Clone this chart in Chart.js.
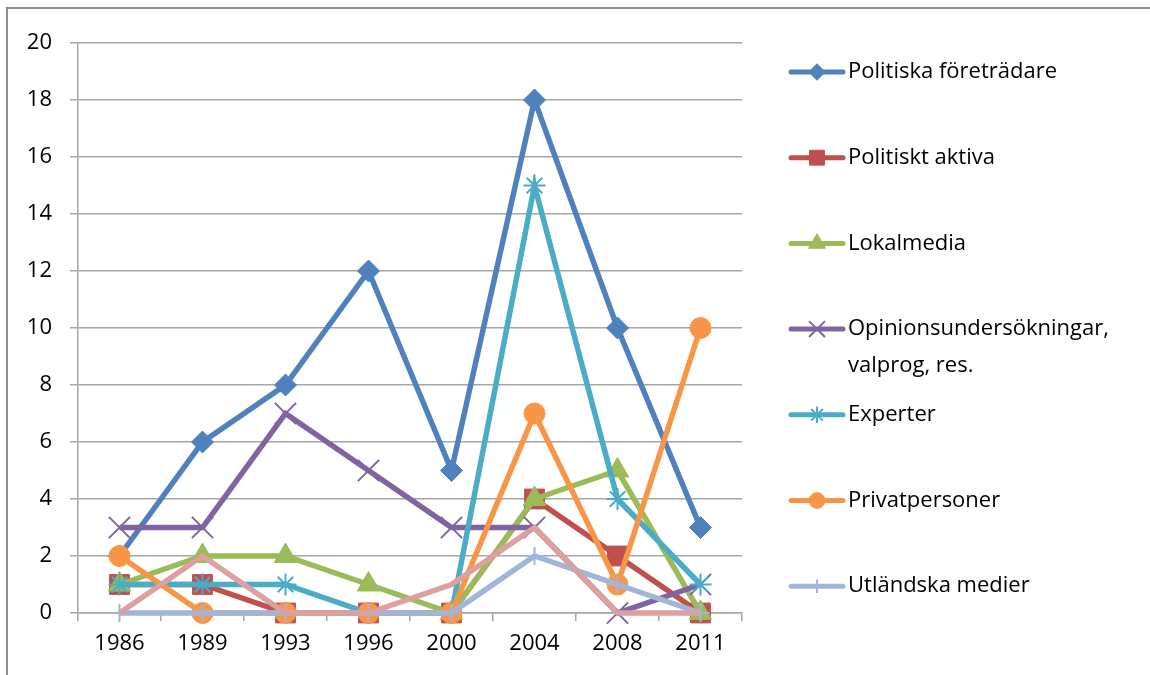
<!DOCTYPE html>
<html>
<head>
<meta charset="utf-8">
<script src="https://cdn.jsdelivr.net/npm/chart.js@4"></script>
<style>
html, body { margin: 0; padding: 0; background: #fff; }
#wrap { width: 1150px; height: 675px; }
</style>
</head>
<body>
<div id="wrap"><canvas id="chart" width="1150" height="675"></canvas></div>
<script>
const years = ['1986', '1989', '1993', '1996', '2000', '2004', '2008', '2011'];

const politiskaForetradare = [2, 6, 8, 12, 5, 18, 10, 3];
const politisktAktiva      = [1, 1, 0, 0, 0, 4, 2, 0];
const lokalmedia           = [1, 2, 2, 1, 0, 4, 5, 0];
const opinion              = [3, 3, 7, 5, 3, 3, 0, 1];
const experter             = [1, 1, 1, 0, 0, 15, 4, 1];
const privatpersoner       = [2, 0, 0, 0, 0, 7, 1, 10];
const utlandskaMedier      = [0, 0, 0, 0, 0, 2, 1, 0];
const ovrigt               = [0, 2, 0, 0, 1, 3, 0, 0]; // pink line, no legend entry

const seriesNames = ['Politiska företrädare', 'Politiskt aktiva', 'Lokalmedia',
    'Opinionsundersökningar, valprog, res.', 'Experter', 'Privatpersoner', 'Utländska medier', ''];
const seriesData = [politiskaForetradare, politisktAktiva, lokalmedia, opinion,
    experter, privatpersoner, utlandskaMedier, ovrigt];
const seriesColors = ['#4F81BD', '#C0504D', '#9BBB59', '#8064A2', '#4BACC6', '#F79646', '#A1B5DA', '#DBA09F'];
const pointStyles = ['rectRot', 'rect', 'triangle', 'crossRot', 'star', 'circle', 'cross', 'circle'];
const pointSizes = [11, 14, 13, 15, 11, 10.5, 9, 0];
const yTicks = [0, 2, 4, 6, 8, 10, 12, 14, 16, 18, 20];

const FONT = '"Open Sans", sans-serif';
const FONT_SIZE = 22;
const gridColor = '#a6a6a6';

const datasets = seriesData.map((d, i) => {
    const stroked = ['crossRot', 'star', 'cross'].includes(pointStyles[i]);
    return {
        label: seriesNames[i],
        data: d,
        borderColor: seriesColors[i],
        backgroundColor: seriesColors[i],
        borderWidth: 5.5,
        pointStyle: pointStyles[i],
        pointRadius: pointSizes[i],
        pointHoverRadius: pointSizes[i],
        pointBackgroundColor: seriesColors[i],
        pointBorderColor: seriesColors[i],
        pointBorderWidth: stroked ? 2 : 1,
        tension: 0,
        clip: false,
        order: seriesData.length - 1 - i // later series on top, like Excel
    };
});

// outer frame (top and left only are visible in the picture)
const framePlugin = {
    id: 'frame',
    beforeDraw(chart) {
        const ctx = chart.ctx;
        ctx.save();
        ctx.strokeStyle = '#8f8f8f';
        ctx.lineWidth = 2;
        ctx.beginPath();
        ctx.moveTo(7, 675);
        ctx.lineTo(7, 8);
        ctx.lineTo(1150, 8);
        ctx.stroke();
        ctx.restore();
    }
};

// legend drawn by hand so the spacing matches the original
const legendPlugin = {
    id: 'sideLegend',
    afterDraw(chart) {
        const ctx = chart.ctx;
        const top = 72, step = 85.7, lineX0 = 791, lineX1 = 843, textX = 848;
        ctx.save();
        chart.data.datasets.forEach((ds, i) => {
            if (!ds.label) return;
            const y = top + i * step;
            ctx.strokeStyle = ds.borderColor;
            ctx.lineWidth = 5;
            ctx.lineCap = 'round';
            ctx.beginPath();
            ctx.moveTo(lineX0, y);
            ctx.lineTo(lineX1, y);
            ctx.stroke();
            ctx.lineCap = 'butt';
            ctx.fillStyle = ds.pointBackgroundColor;
            ctx.strokeStyle = ds.pointBorderColor;
            ctx.lineWidth = ds.pointBorderWidth;
            Chart.helpers.drawPoint(ctx, {
                pointStyle: ds.pointStyle,
                radius: ds.pointRadius * 0.75,
                borderWidth: ds.pointBorderWidth,
                rotation: 0
            }, (lineX0 + lineX1) / 2, y);

            ctx.fillStyle = '#000';
            ctx.font = FONT_SIZE + 'px ' + FONT;
            ctx.textBaseline = 'middle';
            ctx.textAlign = 'left';
            // wrap long labels
            const words = ds.label.split(' ');
            const lines = [];
            let cur = '';
            words.forEach(w => {
                const test = cur ? cur + ' ' + w : w;
                if (ctx.measureText(test).width > 300 && cur) {
                    lines.push(cur);
                    cur = w;
                } else {
                    cur = test;
                }
            });
            lines.push(cur);
            lines.forEach((l, k) => ctx.fillText(l, textX, y + k * 37));
        });
        ctx.restore();
    }
};

new Chart(document.getElementById('chart'), {
    type: 'line',
    data: { labels: years, datasets: datasets },
    options: {
        responsive: false,
        animation: false,
        devicePixelRatio: 1,
        layout: { padding: { top: 43, right: 408, left: 0, bottom: 0 } },
        plugins: {
            legend: { display: false },
            tooltip: { enabled: false }
        },
        scales: {
            x: {
                offset: true,
                grid: {
                    offset: true,
                    drawOnChartArea: false,
                    tickLength: 8,
                    color: gridColor,
                    lineWidth: 1.5
                },
                border: { color: gridColor, width: 1.5 },
                ticks: {
                    color: '#000',
                    font: { family: FONT, size: FONT_SIZE },
                    padding: 10,
                    maxRotation: 0
                },
                afterFit(s) { s.height = 62; }
            },
            y: {
                min: 0,
                max: 20,
                afterBuildTicks(s) { s.ticks = yTicks.map(v => ({ value: v })); },
                grid: {
                    color: gridColor,
                    lineWidth: 1.5,
                    tickLength: 8
                },
                border: { color: gridColor, width: 1.5 },
                ticks: {
                    color: '#000',
                    font: { family: FONT, size: FONT_SIZE },
                    padding: 18
                },
                afterFit(s) { s.width = 78; }
            }
        }
    },
    plugins: [framePlugin, legendPlugin]
});
</script>
</body>
</html>
